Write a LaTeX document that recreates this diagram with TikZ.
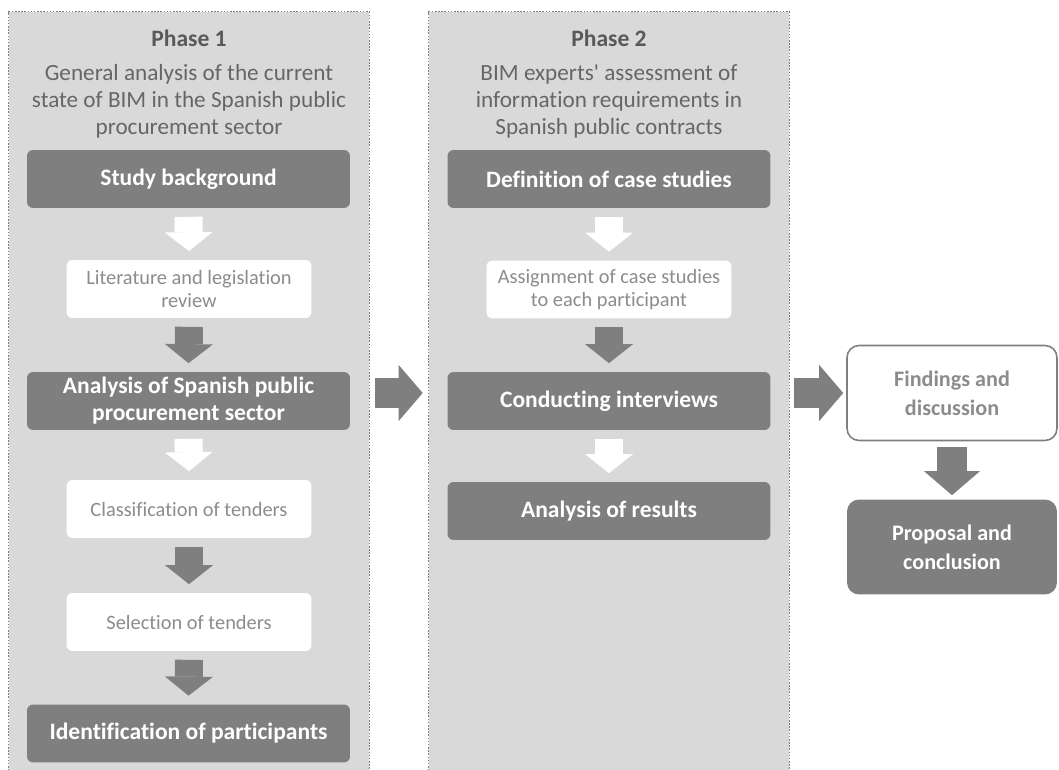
\documentclass[tikz,border=0pt]{standalone}
\usepackage{fontspec}
\setmainfont{Carlito}[Ligatures=NoCommon]
\usepackage{xcolor}
\usepackage{tikz}
\usetikzlibrary{
  arrows.meta,
  positioning,
  calc
}
\definecolor{panelgray}{RGB}{217,217,217}
\definecolor{stepgray}{RGB}{127,127,127}
\definecolor{titlegray}{RGB}{89,89,89}
\definecolor{subgray}{RGB}{102,102,102}
\definecolor{softgray}{RGB}{140,140,140}

\begin{document}
\begin{tikzpicture}[x=0.02cm,y=-0.02cm,
  phasebox/.style={rectangle,fill=panelgray,minimum width=7.2cm,minimum height=15.36cm,inner sep=0pt},
  border/.style={draw=stepgray,line width=0.8pt,dash pattern=on 0.9pt off 0.9pt},
  phasetitle/.style={inner sep=0pt,text=titlegray,font=\fontsize{13.4}{15.4}\selectfont\bfseries},
  phasetext/.style={inner sep=0pt,align=center,text=subgray,font=\fontsize{13.2}{15.4}\selectfont},
  mainstep/.style={rectangle,rounded corners=1.2mm,fill=stepgray,text=white,minimum width=6.46cm,minimum height=1.16cm,align=center,inner sep=2pt,font=\fontsize{13.4}{15.4}\selectfont\bfseries},
  substep/.style={rectangle,rounded corners=1.2mm,fill=white,text=softgray,minimum width=4.9cm,minimum height=1.16cm,align=center,inner sep=2pt,font=\fontsize{11.6}{12.6}\selectfont},
  outstep/.style={rectangle,rounded corners=2.4mm,minimum width=4.2cm,minimum height=1.9cm,align=center,inner sep=2pt,font=\fontsize{12.6}{16.3}\selectfont\bfseries},
  dkarrow/.style={draw=stepgray,line width=0.56cm,-{Triangle[length=0.38cm,width=0.96cm,line width=0pt]}},
  wtarrow/.style={dkarrow,draw=white},
  bigarrow/.style={draw=stepgray,line width=0.6cm,-{Triangle[length=0.48cm,width=1.12cm,line width=0pt]}}
]
\useasboundingbox (0,0) rectangle (1059,770);
\clip (0,0) rectangle (1059,770);

% phase panels
\node[phasebox] (ph1) at (189,396) {};
\node[phasebox] (ph2) at (609,396) {};
\draw[border] (ph1.south west) -- (ph1.north west) -- (ph1.north east) -- (ph1.south east);
\draw[border] (ph2.south west) -- (ph2.north west) -- (ph2.north east) -- (ph2.south east);

\node[phasetitle,anchor=base] (title1) at (189,47) {Phase 1};
\node[phasetext,anchor=base] (text1) at (189,135) {General analysis of the current\\state of BIM in the Spanish public\\procurement sector};
\node[phasetitle,anchor=base] (title2) at (609,47) {Phase 2};
\node[phasetext,anchor=base] (text2) at (609,135) {BIM experts\textquotesingle\ assessment of\\information requirements in\\Spanish public contracts};

% phase 1 steps
\node[mainstep] (background) at (188.5,179) {Study background};
\node[substep] (review) at (189,289) {Literature and legislation\\review};
\node[mainstep] (sector) at (188.5,401) {Analysis of Spanish public\\procurement sector};
\node[substep] (classify) at (189,509) {Classification of tenders};
\node[substep] (select) at (189,622) {Selection of tenders};
\node[mainstep] (participants) at (188.5,733.5) {Identification of participants};

% phase 2 steps
\node[mainstep] (cases) at (609,179) {Definition of case studies};
\node[substep] (assign) at (609,289.5) {Assignment of case studies\\to each participant};
\node[mainstep] (interviews) at (609,401) {Conducting interviews};
\node[mainstep] (results) at (609,511) {Analysis of results};

% outcome
\node[outstep,draw=stepgray,line width=0.9pt,fill=white,text=softgray] (findings) at (952,393) {Findings and\\discussion};
\node[outstep,fill=stepgray,text=white] (proposal) at (952,547) {Proposal and\\conclusion};

\draw[wtarrow] ($(background.south)+(0,8.5)$) -- ($(review.north)+(0,-8.5)$);
\draw[dkarrow] ($(review.south)+(0,8.5)$) -- ($(sector.north)+(0,-8.5)$);
\draw[wtarrow] ($(sector.south)+(0,8.5)$) -- ($(classify.north)+(0,-8.5)$);
\draw[dkarrow] ($(classify.south)+(0,8.5)$) -- ($(select.north)+(0,-8.5)$);
\draw[dkarrow] ($(select.south)+(0,8.5)$) -- ($(participants.north)+(0,-8.5)$);
\draw[wtarrow] ($(cases.south)+(0,8.5)$) -- ($(assign.north)+(0,-8.5)$);
\draw[dkarrow] ($(assign.south)+(0,8.5)$) -- ($(interviews.north)+(0,-8.5)$);
\draw[wtarrow] ($(interviews.south)+(0,8.5)$) -- ($(results.north)+(0,-8.5)$);
\draw[bigarrow] ($(ph1.east |- findings.west)+(6,0)$) -- ($(ph2.west |- findings.west)+(-6,0)$);
\draw[bigarrow] ($(ph2.east |- findings.west)+(5,0)$) -- ($(findings.west)+(-3,0)$);
\draw[bigarrow] ($(findings.south)+(0,6)$) -- ($(proposal.north)+(0,-4)$);
\end{tikzpicture}
\end{document}
